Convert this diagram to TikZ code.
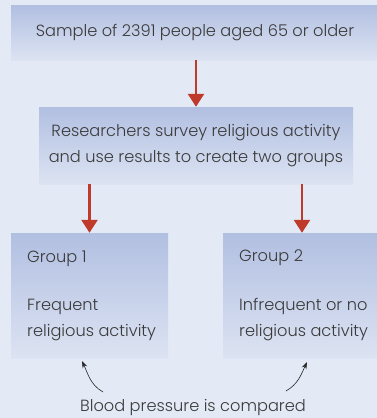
\documentclass[tikz,border=0pt]{standalone}
\usepackage{fontspec}
\setmainfont{Poppins}[UprightFont={* Light}]
\usetikzlibrary{arrows.meta}

\definecolor{bgblue}{HTML}{E3EAF6}
\definecolor{boxtop}{HTML}{B1BFE1}
\definecolor{boxbot}{HTML}{DCE3F2}
\definecolor{flowred}{HTML}{BF3A2B}
\definecolor{inkgray}{HTML}{3A3A3A}

\begin{document}
\begin{tikzpicture}[x=1pt,y=-1pt,line cap=butt,line join=miter,
                    every node/.style={font=\fontsize{16.2pt}{26pt}\selectfont,text=inkgray,inner sep=0pt},
                    stagebox/.style={rectangle,top color=boxtop,bottom color=boxbot,draw=none},
                    flow/.style={draw=flowred,line width=2.6pt,-{Triangle[width=16pt,length=13pt]}},
                    note/.style={draw=black!85,line width=0.6pt,-{Stealth[length=7pt,width=5pt]}}]
% ---- canvas ----
\fill[bgblue] (0,0) rectangle (377,418);
\useasboundingbox (0,0) rectangle (377,418);
% ---- boxes (pixel frame, y down) ----
\node[stagebox,minimum width=366pt,minimum height=55pt] (sample) at (194,32.5) {};
\node[stagebox,minimum width=314pt,minimum height=77pt] (survey) at (196,145.5) {};
\node[stagebox,minimum width=157pt,minimum height=125pt] (grpA) at (89.5,295.5) {};
\node[stagebox,minimum width=154pt,minimum height=125pt] (grpB) at (300,295.5) {};
% ---- texts ----
\node (sampletxt) at (195,33) {Sample of 2391 people aged 65 or older};
\node[align=center] (surveytxt) at (survey) {Researchers survey religious activity\\and use results to create two groups};
\node[anchor=west] (grpAhead) at (27,259) {Group 1};
\node[anchor=west,align=left] (grpAtxt) at (27,320.5) {Frequent\\religious activity};
\node[anchor=west] (grpBhead) at (239,258) {Group 2};
\node[anchor=west,align=left] (grpBtxt) at (239,319.5) {Infrequent or no\\religious activity};
\node (cmp) at (193,407) {Blood pressure is compared};
% ---- red flow arrows ----
\draw[flow] (sample.south -| survey.north) -- (survey.north);
\draw[flow] (survey.south -| grpA.north) -- (grpA.north);
\draw[flow] (survey.south -| 302,0) coordinate (fb) -- (grpA.north -| fb);
% ---- curved pointers (out/in are canvas angles) ----
\coordinate (pa) at (103,392);
\coordinate (pb) at (286,391);
\draw[note] (pa) to[out=150,in=-65] (82,361);
\draw[note] (pb) to[out=30,in=-115] (307,362);
\end{tikzpicture}
\end{document}
